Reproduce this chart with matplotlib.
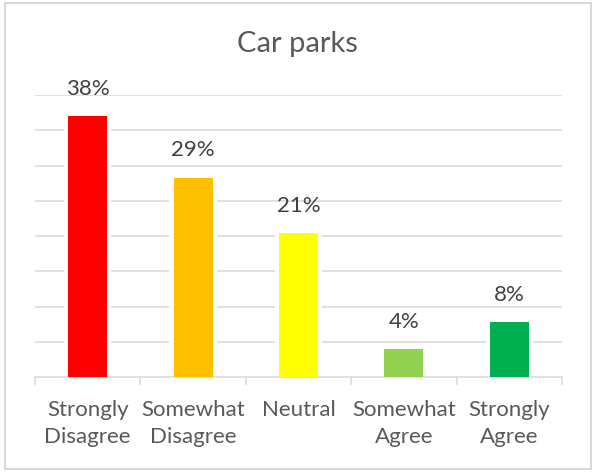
import matplotlib
matplotlib.use('Agg')
import matplotlib.pyplot as plt
import matplotlib.patches as mpatches
import numpy as np

# Dados do gráfico
categorias = ['Strongly\nDisagree', 'Somewhat\nDisagree', 'Neutral', 'Somewhat\nAgree', 'Strongly\nAgree']
valores = [38, 29, 21, 4, 8]
rotulos = ['38%', '29%', '21%', '4%', '8%']
cores = ['#FF0000', '#FFC000', '#FFFF00', '#92D050', '#00B050']

plt.rcParams['font.family'] = ['Lato', 'DejaVu Sans']

fig = plt.figure(figsize=(5.96, 4.77), dpi=100)
W, H = 596, 477
ax = fig.add_axes([35 / W, 1 - 378 / H, (562 - 35) / W, (378 - 96) / H])

x = np.arange(len(valores))
ymax = 41
passo = ymax / 8

# gridlines
ax.set_ylim(0, ymax)
ax.set_xlim(-0.5, len(valores) - 0.5)
ax.set_yticks(np.arange(1, 9) * passo)
ax.yaxis.grid(True, color='#d9d9d9', linewidth=1.1)
ax.set_axisbelow(True)

# white gap around the bars + bars
ax.bar(x, valores, width=0.45, color='white', zorder=2)
ax.bar(x, valores, width=0.37, color=cores, zorder=3)

for xi, v, r in zip(x, valores, rotulos):
    ax.annotate(r, (xi, v), xytext=(0, 13), textcoords='offset points',
                ha='center', va='bottom', fontsize=16, color='#404040', zorder=4)

for s in ['top', 'left', 'right']:
    ax.spines[s].set_visible(False)
ax.spines['bottom'].set_color('#d9d9d9')
ax.spines['bottom'].set_linewidth(1.1)

ax.set_xticks(x)
ax.set_xticklabels(categorias, fontsize=16, color='#595959', linespacing=1.45)
ax.set_xticks(np.arange(len(valores) + 1) - 0.5, minor=True)
ax.tick_params(axis='x', which='major', length=0, pad=16)
ax.tick_params(axis='x', which='minor', length=6, color='#d9d9d9', width=1.1)
ax.tick_params(axis='y', length=0, labelleft=False)

fig.text(0.499, 1 - 52 / H, 'Car parks', ha='center', va='baseline',
         fontsize=21, color='#595959')

# borda do gráfico
borda = mpatches.Rectangle((4.5 / W, 1 - 470 / H), (591 - 4.5) / W, (470 - 3.5) / H,
                           transform=fig.transFigure, fill=False,
                           edgecolor='#d9d9d9', linewidth=1.5)
fig.patches.append(borda)

fig.savefig('out.png', dpi=100)
